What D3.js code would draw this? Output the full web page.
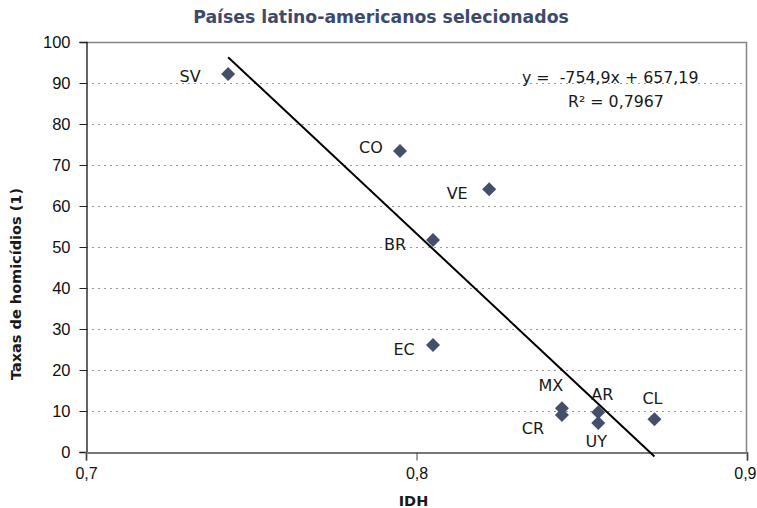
<!DOCTYPE html>
<html><head><meta charset="utf-8">
<script src="https://cdn.jsdelivr.net/npm/d3@7"></script>
<style>body{margin:0;background:#fff}svg{display:block}</style>
</head><body>
<svg id="c" width="757" height="508"></svg>
<script>
// ---- data ----
const countries = ["SV","CO","VE","BR","EC","MX","CR","AR","UY","CL"];
const idh       = [0.743,0.795,0.822,0.805,0.805,0.844,0.844,0.855,0.855,0.872];
const homicides = [92.2,73.4,64.1,51.7,26.1,10.7,9.0,9.7,7.1,8.0];
const yTickValues = [0,10,20,30,40,50,60,70,80,90,100];
const xTickValues = [0.7,0.8,0.9];
const xTickLabels = ["0,7","0,8","0,9"];
const trendSlope = -754.9, trendIntercept = 657.19;
const equationLines = ["y =  -754,9x + 657,19", "R\u00b2 = 0,7967"];
const titleText = "Países latino-americanos selecionados";
const xTitle = "IDH";
const yTitle = "Taxas de homicídios (1)";

// ---- layout (label offsets in px relative to marker) ----
const labelDx = [-38,-29,-32,-38,-29,-11,-29,4,-2,-2];
const labelDy = [8,2,10,10,10,-17,19,-12,24,-15];

const W = 757, H = 508;
const m = {left:86, top:42, right:10, bottom:56};
const svg = d3.select("#c");
const x = d3.scaleLinear().domain([0.7,0.9]).range([m.left, W - m.right]);
const y = d3.scaleLinear().domain([0,100]).range([H - m.bottom, m.top]);
const markColor = "#454f69";
const font = "'DejaVu Sans', sans-serif";
const tickFont = "'Liberation Sans', Arial, sans-serif";

// gridlines
svg.append("g").selectAll("line").data(yTickValues.filter(v => v > 0 && v < 100)).join("line")
  .attr("x1", m.left).attr("x2", W - m.right)
  .attr("y1", d => y(d) + 0.5).attr("y2", d => y(d) + 0.5)
  .attr("stroke", "#9a9a9a").attr("stroke-width", 1).attr("stroke-dasharray", "2,4");

// plot border top/right
svg.append("path")
  .attr("d", `M${m.left},${y(100)+0.5}H${x(0.9)-0.5}V${y(0)}`)
  .attr("fill", "none").attr("stroke", "#858585").attr("stroke-width", 1.5);

// y axis
const yAxis = svg.append("g").attr("transform", `translate(${m.left + 0.5},0)`)
  .call(d3.axisLeft(y).tickValues(yTickValues).tickSize(7).tickPadding(9).tickFormat(d => String(d)));
yAxis.select(".domain").attr("stroke", "#111").attr("stroke-width", 1.3);
yAxis.selectAll(".tick line").attr("stroke", "#222");
yAxis.selectAll("text").attr("font-family", tickFont).attr("font-size", 16.5).attr("fill", "#111");

// x axis
const xAxis = svg.append("g").attr("transform", `translate(0,${y(0) + 0.5})`)
  .call(d3.axisBottom(x).tickValues(xTickValues).tickSize(8).tickPadding(7)
    .tickFormat((d, i) => xTickLabels[i]));
xAxis.select(".domain").attr("stroke", "#777").attr("stroke-width", 2);
xAxis.selectAll(".tick line").attr("stroke", "#444");
xAxis.selectAll("text").attr("font-family", tickFont).attr("font-size", 16).attr("fill", "#111")
  .attr("dx", (d, i) => i === xTickValues.length - 1 ? -2 : 0)
  .attr("text-anchor", (d, i) => i === xTickValues.length - 1 ? "middle" : "middle");
xAxis.selectAll(".tick").filter((d, i) => i === xTickValues.length - 1).select("text")
  .attr("text-anchor", "end").attr("dx", 0).attr("x", W - x(0.9) - 1);

// trend line
const ext = d3.extent(idh);
const line = d3.line().x(d => x(d)).y(d => y(trendSlope * d + trendIntercept));
svg.append("path").datum(ext).attr("d", line)
  .attr("stroke", "#000").attr("stroke-width", 2).attr("fill", "none");

// markers
const sym = d3.symbol().type(d3.symbolDiamond2).size(125);
svg.append("g").selectAll("path").data(countries).join("path")
  .attr("transform", (d, i) => `translate(${x(idh[i])},${y(homicides[i])})`)
  .attr("d", sym).attr("fill", markColor);

// labels
svg.append("g").selectAll("text").data(countries).join("text")
  .attr("x", (d, i) => x(idh[i]) + labelDx[i])
  .attr("y", (d, i) => y(homicides[i]) + labelDy[i])
  .attr("text-anchor", "middle")
  .attr("font-family", font).attr("font-size", 16).attr("fill", "#1a1a1a")
  .text(d => d);

// equation
svg.append("text").attr("x", 522).attr("y", 83).style("white-space", "pre")
  .attr("font-family", font).attr("font-size", 15.8).attr("fill", "#1a1a1a").text(equationLines[0]);
svg.append("text").attr("x", 568).attr("y", 107).style("white-space", "pre")
  .attr("font-family", font).attr("font-size", 15.8).attr("fill", "#1a1a1a").text(equationLines[1]);

// title
svg.append("text").attr("x", 381).attr("y", 22.5).attr("text-anchor", "middle")
  .attr("font-family", font).attr("font-weight", "bold").attr("font-size", 17.3)
  .attr("fill", "#3e4a6b").text(titleText);

// axis titles
svg.append("text").attr("x", x(0.8) - 3).attr("y", 506).attr("text-anchor", "middle")
  .attr("font-family", font).attr("font-weight", "bold").attr("font-size", 14.5)
  .attr("fill", "#1a1a1a").text(xTitle);
svg.append("text").attr("transform", "translate(21,284) rotate(-90)").attr("text-anchor", "middle")
  .attr("font-family", font).attr("font-weight", "bold").attr("font-size", 14.5)
  .attr("fill", "#1a1a1a").text(yTitle);
</script>
</body></html>
